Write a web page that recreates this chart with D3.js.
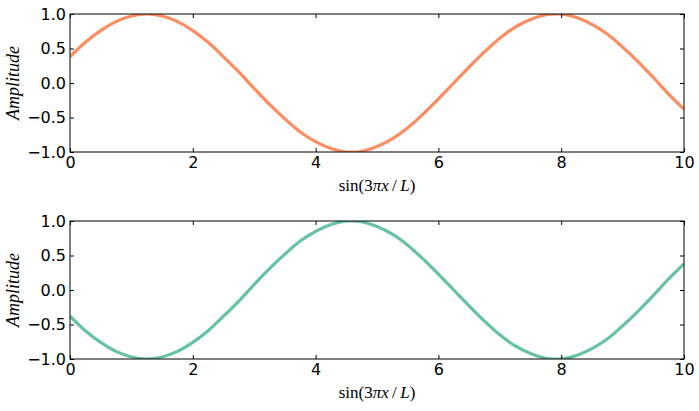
<!DOCTYPE html>
<html>
<head>
<meta charset="utf-8">
<script src="https://cdn.jsdelivr.net/npm/d3@7"></script>
<style>
  body { margin: 0; background: #fff; }
  svg { display: block; }
</style>
</head>
<body>
<div class="chart"></div>
<script>
// values, x every 0.25
var xs = [0, 0.25, 0.5, 0.75, 1, 1.25, 1.5, 1.75, 2, 2.25, 2.5, 2.75, 3, 3.25, 3.5, 3.75,
          4, 4.25, 4.5, 4.75, 5, 5.25, 5.5, 5.75, 6, 6.25, 6.5, 6.75, 7, 7.25, 7.5, 7.75,
          8, 8.25, 8.5, 8.75, 9, 9.25, 9.5, 9.75, 10];
var topVals = [0.38, 0.59, 0.76, 0.89, 0.97, 1.00, 0.97, 0.89, 0.76, 0.59, 0.38, 0.16, -0.08,
               -0.31, -0.52, -0.71, -0.85, -0.95, -1.00, -0.99, -0.92, -0.81, -0.65, -0.45,
               -0.23, 0.00, 0.23, 0.45, 0.65, 0.81, 0.92, 0.99, 1.00, 0.95, 0.85, 0.71, 0.52,
               0.31, 0.08, -0.16, -0.38];
var bottomVals = [-0.38, -0.59, -0.76, -0.89, -0.97, -1.00, -0.97, -0.89, -0.76, -0.59, -0.38,
                  -0.16, 0.08, 0.31, 0.52, 0.71, 0.85, 0.95, 1.00, 0.99, 0.92, 0.81, 0.65, 0.45,
                  0.23, 0.00, -0.23, -0.45, -0.65, -0.81, -0.92, -0.99, -1.00, -0.95, -0.85,
                  -0.71, -0.52, -0.31, -0.08, 0.16, 0.38];
var xTicks = [0, 2, 4, 6, 8, 10];
var yTicks = [-1.0, -0.5, 0.0, 0.5, 1.0];

var width = 699, height = 411;
var left = 70, right = 684, plotH = 138;

var svg = d3.select(".chart").append("svg")
    .attr("width", width)
    .attr("height", height);

var x = d3.scaleLinear().domain([0, 10]).range([left, right]);

function fmtY(d) {
    return d3.format(".1f")(d).replace("-", "\u2212");
}

var panels = [
    { top: 14, vals: topVals, color: "#fc8d62" },
    { top: 221, vals: bottomVals, color: "#66c2a5" }
];

panels.forEach(function(p, k) {
    var y = d3.scaleLinear().domain([-1, 1]).range([p.top + plotH, p.top]);
    var g = svg.append("g");

    g.append("clipPath").attr("id", "clip" + k)
        .append("rect")
        .attr("x", left).attr("y", p.top)
        .attr("width", right - left).attr("height", plotH);

    var line = d3.line()
        .x(function(d, i) { return x(xs[i]); })
        .y(function(d) { return y(d); })
        .curve(d3.curveCatmullRom);

    g.append("path")
        .datum(p.vals)
        .attr("clip-path", "url(#clip" + k + ")")
        .attr("d", line)
        .attr("fill", "none")
        .attr("stroke", p.color)
        .attr("stroke-width", 3.2);

    // axes, ticks pointing inward on all four sides
    g.append("g")
        .attr("transform", "translate(0," + (p.top + plotH) + ")")
        .call(d3.axisBottom(x).tickValues(xTicks).tickSizeInner(-4).tickSizeOuter(0).tickPadding(5).tickFormat(d3.format("d")));
    g.append("g")
        .attr("transform", "translate(0," + p.top + ")")
        .call(d3.axisTop(x).tickValues(xTicks).tickSizeInner(-4).tickSizeOuter(0).tickFormat(""));
    g.append("g")
        .attr("transform", "translate(" + left + ",0)")
        .call(d3.axisLeft(y).tickValues(yTicks).tickSizeInner(-4).tickSizeOuter(0).tickPadding(4).tickFormat(fmtY));
    g.append("g")
        .attr("transform", "translate(" + right + ",0)")
        .call(d3.axisRight(y).tickValues(yTicks).tickSizeInner(-4).tickSizeOuter(0).tickFormat(""));

    g.selectAll(".domain").remove();
    g.selectAll(".tick line").attr("stroke", "#000");
    g.selectAll(".tick text")
        .attr("font-family", "DejaVu Sans")
        .attr("font-size", 16)
        .attr("fill", "#000");

    g.append("rect")
        .attr("x", left).attr("y", p.top)
        .attr("width", right - left).attr("height", plotH)
        .attr("fill", "none")
        .attr("stroke", "#000")
        .attr("stroke-width", 1);

    // x label: sin(3πx/L)
    var xl = g.append("text")
        .attr("font-family", "Liberation Serif")
        .attr("font-size", 17)
        .attr("text-anchor", "middle")
        .attr("x", (left + right) / 2)
        .attr("y", p.top + plotH + 39);
    [["sin(3", false], ["\u03c0x", true], ["\u2009/\u2009", false], ["L", true], [")", false]].forEach(function(s) {
        xl.append("tspan").attr("font-style", s[1] ? "italic" : "normal").text(s[0]);
    });

    g.append("text")
        .attr("font-family", "Liberation Serif")
        .attr("font-size", 18)
        .attr("font-style", "italic")
        .attr("text-anchor", "middle")
        .attr("transform", "translate(19," + (p.top + plotH / 2) + ") rotate(-90)")
        .text("Amplitude");
});
</script>
</body>
</html>
